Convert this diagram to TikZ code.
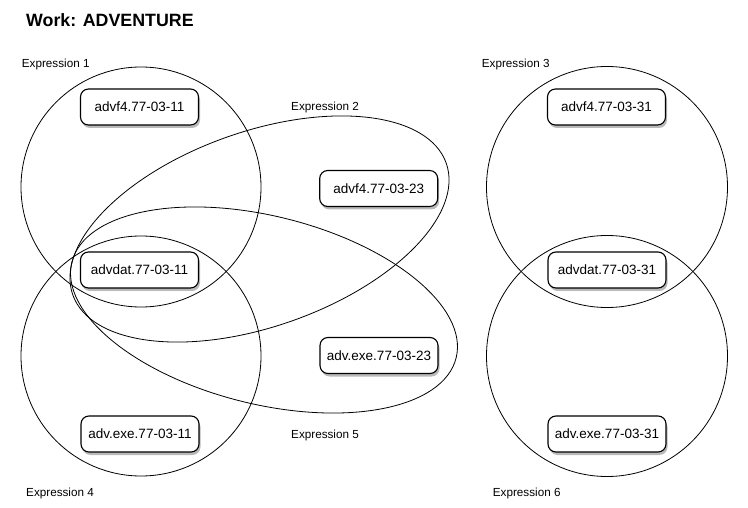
\documentclass[tikz,border=0pt]{standalone}
\usepackage{fontspec}
\setmainfont{Liberation Sans}
\usetikzlibrary{shadows}

\begin{document}
\begin{tikzpicture}[x=1pt, y=-1pt,
  expr/.style={line width=0.8pt},
  exprlabel/.style={anchor=base west, inner sep=0pt, font=\fontsize{11.7}{14}\selectfont},
  manif/.style={draw, line width=1.1pt, rounded corners=8pt, fill=white,
    minimum width=118pt, minimum height=36pt, inner sep=0pt,
    font=\fontsize{13.5}{16}\selectfont,
    drop shadow={shadow xshift=1.5pt, shadow yshift=-3pt, opacity=0.55}}]

  \useasboundingbox (0,0) rectangle (748,508);

  \node[anchor=base west, inner sep=0pt, font=\bfseries\fontsize{17.8}{21}\selectfont] (title) at (26,26.7) {Work: ADVENTURE};

  \draw[expr] (141,187) circle (120pt);
  \draw[expr] (141,356) circle (120pt);
  \draw[expr] (607,187) circle (120.5pt);
  \draw[expr] (607,356) circle (120.5pt);

  \draw[expr, rotate around={19.4:(259.5,229)}] (259.5,229) ellipse (198pt and 97.5pt);
  \draw[expr, rotate around={-14:(264,310)}] (264,310) ellipse (198pt and 94pt);

  \node[exprlabel] (e1) at (21.7,68) {Expression 1};
  \node[exprlabel] (e2) at (291,111) {Expression 2};
  \node[exprlabel] (e3) at (481.7,68) {Expression 3};
  \node[exprlabel] (e4) at (26,496) {Expression 4};
  \node[exprlabel] (e5) at (291,438) {Expression 5};
  \node[exprlabel] (e6) at (492.7,496) {Expression 6};

  \node[manif] (f4a) at (139.5,107) {advf4.77-03-11};
  \node[manif] (data) at (139.5,270) {advdat.77-03-11};
  \node[manif] (exea) at (140,434) {adv.exe.77-03-11};

  \node[manif] (f4b) at (378.7,188.5) {advf4.77-03-23};
  \node[manif] (exeb) at (379,355.5) {adv.exe.77-03-23};

  \node[manif] (f4c) at (606.5,107) {advf4.77-03-31};
  \node[manif] (datc) at (607,270) {advdat.77-03-31};
  \node[manif] (exec) at (607,434) {adv.exe.77-03-31};

\end{tikzpicture}
\end{document}
